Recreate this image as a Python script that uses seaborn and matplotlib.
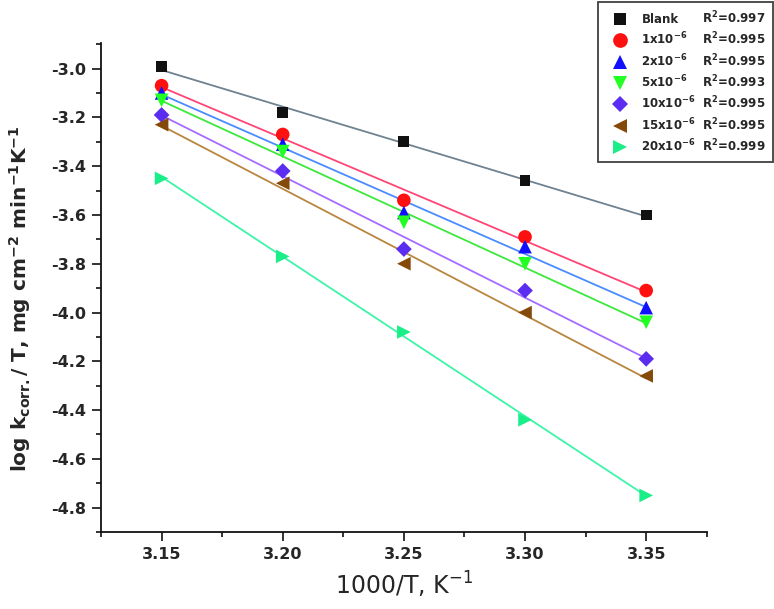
import matplotlib
matplotlib.use("Agg")
import matplotlib.pyplot as plt
from matplotlib.lines import Line2D
from matplotlib.ticker import MultipleLocator, FormatStrFormatter
import seaborn as sns
import pandas as pd

# ---------------- data ----------------
x_vals = [3.15, 3.20, 3.25, 3.30, 3.35]
blank = [-2.99, -3.18, -3.30, -3.46, -3.60]
c1 = [-3.07, -3.27, -3.54, -3.69, -3.91]
c2 = [-3.10, -3.31, -3.59, -3.73, -3.98]
c5 = [-3.13, -3.34, -3.63, -3.80, -4.04]
c10 = [-3.19, -3.42, -3.74, -3.91, -4.19]
c15 = [-3.23, -3.47, -3.80, -4.00, -4.26]
c20 = [-3.45, -3.77, -4.08, -4.44, -4.75]

series_names = ["Blank", "1x10$^{-6}$", "2x10$^{-6}$", "5x10$^{-6}$",
                "10x10$^{-6}$", "15x10$^{-6}$", "20x10$^{-6}$"]
r2_labels = ["0.997", "0.995", "0.995", "0.993", "0.995", "0.995", "0.999"]
series_values = [blank, c1, c2, c5, c10, c15, c20]

# ---------------- style ----------------
marker_colors = ["#111111", "#ff1010", "#1010ff", "#22ff22", "#5a2df0", "#854a0a", "#1aee88"]
line_colors = ["#6f8290", "#ff4575", "#4a8cff", "#3ce83c", "#a56cff", "#b98640", "#3cf5a8"]
markers = ["s", "o", "^", "v", "D", "<", ">"]
msizes = [7.8, 9.8, 9.8, 9.8, 8.0, 9.8, 9.8]

sns.set_style("ticks")
plt.rcParams["font.family"] = ["DejaVu Sans"]
plt.rcParams["mathtext.default"] = "regular"
plt.rcParams["axes.unicode_minus"] = False

fig = plt.figure(figsize=(7.74, 6.09), dpi=100)
ax = fig.add_axes([0.1305, 0.1264, 0.7826, 0.803])

for name, vals, mc, lc, mk, ms in zip(series_names, series_values, marker_colors,
                                      line_colors, markers, msizes):
    df = pd.DataFrame({"x": x_vals, "y": vals})
    sns.regplot(data=df, x="x", y="y", ax=ax, ci=None, scatter=False, truncate=True,
                line_kws=dict(color=lc, lw=1.3, zorder=2))

for name, vals, mc, lc, mk, ms in zip(series_names, series_values, marker_colors,
                                      line_colors, markers, msizes):
    df = pd.DataFrame({"x": x_vals, "y": vals})
    sns.scatterplot(data=df, x="x", y="y", ax=ax, marker=mk, s=ms ** 2, color=mc,
                    edgecolor="none", linewidth=0, zorder=3)

ax.set_xlim(3.125, 3.375)
ax.set_ylim(-4.9, -2.895)
ax.xaxis.set_major_locator(MultipleLocator(0.05))
ax.xaxis.set_minor_locator(MultipleLocator(0.025))
ax.yaxis.set_major_locator(MultipleLocator(0.2))
ax.yaxis.set_minor_locator(MultipleLocator(0.1))
ax.xaxis.set_major_formatter(FormatStrFormatter("%.2f"))
ax.yaxis.set_major_formatter(FormatStrFormatter("%.1f"))

sns.despine(ax=ax)
for sp in ["left", "bottom"]:
    ax.spines[sp].set_linewidth(1.3)
    ax.spines[sp].set_color("#111111")
ax.tick_params(axis="both", which="major", direction="out", length=6.5, width=1.2,
               color="#111111", labelsize=11.5, pad=4)
ax.tick_params(axis="both", which="minor", direction="out", length=3.5, width=1.2,
               color="#111111")
for lab in ax.get_xticklabels() + ax.get_yticklabels():
    lab.set_fontweight("bold")

ax.set_xlabel("1000/T, K$^{-1}$", fontsize=17, labelpad=6)
ax.set_ylabel("log k$_{corr.}$/ T, mg cm$^{-2}$ min$^{-1}$K$^{-1}$", fontsize=14.5,
              fontweight="bold")
ax.yaxis.set_label_coords(-0.113, 0.478)

# ---------------- legend ----------------
handles = []
labels = []
for name, mc, mk, ms in zip(series_names, marker_colors, markers, msizes):
    handles.append(Line2D([], [], ls="", marker=mk, color=mc, markersize=ms * 1.08,
                          markeredgewidth=0))
    labels.append(name)
for r2 in r2_labels:
    handles.append(Line2D([], [], ls="", marker=""))
    labels.append("R$^{2}$=" + r2)

leg = fig.legend(handles, labels, ncol=2, loc="upper left",
                 bbox_to_anchor=(598 / 774, 1 - 2 / 609), bbox_transform=fig.transFigure,
                 borderaxespad=0, prop=dict(weight="bold", size=8.5),
                 frameon=True, fancybox=False, edgecolor="#111111",
                 borderpad=0.65, handlelength=2.5, handletextpad=0.53,
                 labelspacing=0.4, columnspacing=-2.55)
leg.get_frame().set_linewidth(1.3)

fig.savefig("out.png", dpi=100)
